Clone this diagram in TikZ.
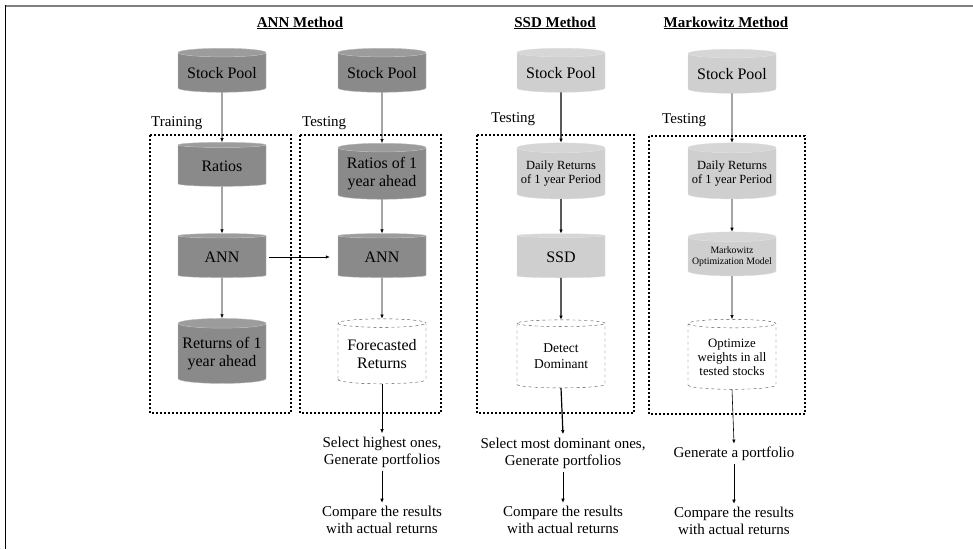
\documentclass[tikz,border=0pt]{standalone}
\usepackage{fontspec}
\setmainfont{Liberation Serif}
\usetikzlibrary{shapes.geometric,arrows.meta}
\definecolor{darkdb}{HTML}{8A8A8A}
\definecolor{lightdb}{HTML}{CFCFCF}

\begin{document}
\begin{tikzpicture}[x=1pt, y=-1pt,
  db/.style={cylinder, shape border rotate=90, aspect=0.12, minimum width=88pt, minimum height=44pt,
    inner sep=1pt, align=center, font=\fontsize{16}{18}\selectfont},
  darkcyl/.style={db, cylinder uses custom fill, cylinder body fill=darkdb, cylinder end fill=darkdb!85!white, draw=darkdb!60!white},
  lightcyl/.style={db, cylinder uses custom fill, cylinder body fill=lightdb, cylinder end fill=lightdb!85!white, draw=lightdb!70!white},
  outcyl/.style={db, draw=black!70, dashed, fill=white},
  dotbox/.style={draw, line width=1.1pt, dash pattern=on 2pt off 2pt},
  arr/.style={-{Latex[length=4pt,width=3.5pt]}, line width=0.6pt},
  step txt/.style={align=center, font=\fontsize{15}{17}\selectfont},
  head/.style={font=\fontsize{15}{17}\selectfont\bfseries}]
  \useasboundingbox (0,0) rectangle (973,549);
  % frame
  \draw[gray, line width=2pt] (5,5.5) -- (973,5.5);
  \draw[line width=1.5pt] (5.5,5) -- (5.5,549);

  % headings
  \node[head] (annhead) at (300,23) {\underline{ANN Method}};
  \node[head] (ssdhead) at (555,23) {\underline{SSD Method}};
  \node[head] (markhead) at (726,23) {\underline{Markowitz Method}};

  % dotted boxes
  \draw[dotbox] (150,135) rectangle (291,413);
  \draw[dotbox] (300,135) rectangle (441,413);
  \draw[dotbox] (477,135) rectangle (634,413);
  \draw[dotbox] (649,136) rectangle (805,414);
  \node[anchor=south west, inner sep=1pt, font=\fontsize{15}{17}\selectfont] (train) at (150,131) {Training};
  \node[anchor=south west, inner sep=1pt, font=\fontsize{15}{17}\selectfont] (test1) at (301,131) {Testing};
  \node[anchor=south west, inner sep=1pt, font=\fontsize{15}{17}\selectfont] (test2) at (490,127) {Testing};
  \node[anchor=south west, inner sep=1pt, font=\fontsize{15}{17}\selectfont] (test3) at (661,128) {Testing};

  % ANN training
  \node[darkcyl] (pool1) at (222,73) {Stock Pool};
  \node[darkcyl] (ratios) at (222,166) {Ratios};
  \node[darkcyl] (ann1) at (222,257) {ANN};
  \node[darkcyl, minimum height=65pt] (ret1) at (222,354) {Returns of 1\\year ahead};
  \draw[arr] (pool1.south) -- (ratios.north);
  \draw[arr] (ratios.south) -- (ann1.north);
  \draw[arr] (ann1.south) -- (ret1.north);

  % ANN testing
  \node[darkcyl] (pool2) at (382,73) {Stock Pool};
  \node[darkcyl, minimum height=56pt] (ratios2) at (382,174) {Ratios of 1\\year ahead};
  \node[darkcyl] (ann2) at (382,257) {ANN};
  \node[outcyl, minimum height=65pt] (fcast) at (382,354) {Forecasted\\Returns};
  \node[step txt] (sel1) at (382,452) {Select highest ones,\\Generate portfolios};
  \node[step txt] (cmp1) at (382,520) {Compare the results\\with actual returns};
  \draw[arr] (pool2.south) -- (ratios2.north);
  \draw[arr] (ratios2.south) -- (ann2.north);
  \draw[arr] (ann1.east) ++(3,0) -- ([xshift=-8pt]ann2.west);
  \draw[arr] (ann2.south) -- (fcast.north);
  \draw[arr] (fcast.south) -- (sel1.north);
  \draw[arr] (sel1.south) -- (cmp1.north);

  % SSD
  \node[lightcyl] (pool3) at (561,73) {Stock Pool};
  \node[lightcyl, minimum height=56pt, font=\fontsize{12.5}{14}\selectfont] (daily1) at (561,174) {Daily Returns\\of 1 year Period};
  \node[lightcyl] (ssd) at (561,257) {SSD};
  \node[outcyl, minimum height=68pt, font=\fontsize{13.5}{16}\selectfont] (detect) at (561,356) {Detect\\Dominant};
  \node[step txt] (sel2) at (563,453) {Select most dominant ones,\\Generate portfolios};
  \node[step txt] (cmp2) at (563,520) {Compare the results\\with actual returns};
  \draw[arr, line width=1.2pt] (pool3.south) -- (daily1.north);
  \draw[arr, line width=1.2pt] (daily1.south) -- (ssd.north);
  \draw[arr, line width=1.2pt] (ssd.south) -- (detect.north);
  \draw[arr, line width=1.2pt] (detect.south) -- (sel2.north);
  \draw[arr] (sel2.south) -- (cmp2.north);

  % Markowitz
  \node[lightcyl] (pool4) at (732,74) {Stock Pool};
  \node[lightcyl, minimum height=56pt, font=\fontsize{12.5}{14}\selectfont] (daily2) at (732,174) {Daily Returns\\of 1 year Period};
  \node[lightcyl, font=\fontsize{9.8}{11}\selectfont] (markopt) at (732,257) {Markowitz\\Optimization Model};
  \node[outcyl, minimum height=70pt, font=\fontsize{12.8}{14}\selectfont] (optim) at (732,357) {Optimize\\weights in all\\tested stocks};
  \node[step txt] (gen3) at (734,454) {Generate a portfolio};
  \node[step txt] (cmp3) at (734,521) {Compare the results\\with actual returns};
  \draw[arr] (pool4.south) -- (daily2.north);
  \draw[arr] (daily2.south) -- (markopt.north);
  \draw[arr] (markopt.south) -- (optim.north);
  \draw[arr] (optim.south) -- (gen3.north);
  \draw[arr] (gen3.south) -- (cmp3.north);
\end{tikzpicture}
\end{document}
